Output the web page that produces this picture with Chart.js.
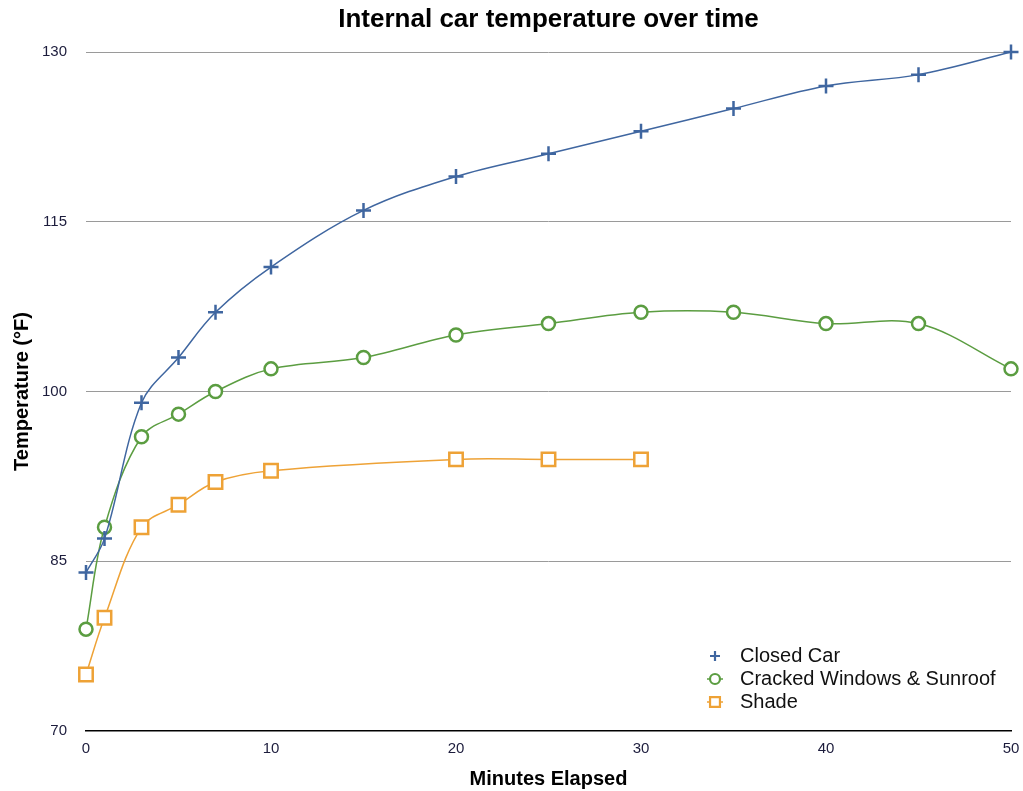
<!DOCTYPE html>
<html>
<head>
<meta charset="utf-8">
<title>Internal car temperature over time</title>
<script src="https://cdn.jsdelivr.net/npm/chart.js@4.4.0/dist/chart.umd.min.js"></script>
<style>
    html, body { margin: 0; padding: 0; background: #fff; overflow: hidden; }
    #wrap { width: 1023px; height: 791px; position: relative; }
    canvas { display: block; }
</style>
</head>
<body>
<div id="wrap"><canvas id="tempChart"></canvas></div>
<script>
// Minutes at which readings were taken
const minutesLong = [0, 1, 3, 5, 7, 10, 15, 20, 25, 30, 35, 40, 45, 50];
const minutesShade = [0, 1, 3, 5, 7, 10, 20, 25, 30];

// Temperatures (°F)
const closedCar = [84, 87, 99, 103, 107, 111, 116, 119, 121, 123, 125, 127, 128, 130];
const crackedWindows = [79, 88, 96, 98, 100, 102, 103, 105, 106, 107, 107, 106, 106, 102];
const shade = [75, 80, 88, 90, 92, 93, 94, 94, 94];

const yTicks = [70, 85, 100, 115, 130];
const xTicks = [0, 10, 20, 30, 40, 50];

const FONT = '"Liberation Sans", Arial, Helvetica, sans-serif';
const TITLE = 'Internal car temperature over time';

function toPoints(xs, ys) {
    return xs.map((x, i) => ({ x: x, y: ys[i] }));
}

// Title centred over the plot area rather than the whole canvas
const plotTitle = {
    id: 'plotTitle',
    afterDraw(chart) {
        const ctx = chart.ctx;
        const area = chart.chartArea;
        ctx.save();
        ctx.fillStyle = '#000';
        ctx.font = 'bold 26px ' + FONT;
        ctx.textAlign = 'center';
        ctx.textBaseline = 'middle';
        ctx.fillText(TITLE, (area.left + area.right) / 2, 20);
        ctx.restore();
    }
};

// Legend drawn inside the plot, lower right
const innerLegend = {
    id: 'innerLegend',
    afterDraw(chart) {
        const ctx = chart.ctx;
        const x0 = 715;
        let y = 656;
        ctx.save();
        chart.data.datasets.forEach(ds => {
            if (ds.pointStyle !== 'cross') {
                ctx.strokeStyle = ds.borderColor;
                ctx.lineWidth = 1.5;
                ctx.beginPath();
                ctx.moveTo(x0 - 8, y);
                ctx.lineTo(x0 + 8, y);
                ctx.stroke();
            }
            ctx.strokeStyle = ds.borderColor;
            ctx.fillStyle = '#fff';
            ctx.lineWidth = 2.2;
            Chart.helpers.drawPoint(ctx, {
                pointStyle: ds.pointStyle,
                radius: ds.pointStyle === 'rect' ? 7 : 5,
                rotation: 0,
                borderWidth: 2.2
            }, x0, y);
            ctx.fillStyle = '#111';
            ctx.font = '20px ' + FONT;
            ctx.textBaseline = 'middle';
            ctx.textAlign = 'left';
            ctx.fillText(ds.label, 740, y);
            y += 23;
        });
        ctx.restore();
    }
};

new Chart(document.getElementById('tempChart'), {
    type: 'line',
    data: {
        datasets: [{
            label: 'Closed Car',
            data: toPoints(minutesLong, closedCar),
            borderColor: '#3f66a0',
            backgroundColor: '#3f66a0',
            pointStyle: 'cross',
            pointRadius: 7.5,
            pointBorderWidth: 2.5,
            borderWidth: 1.5,
            tension: 0.35,
            clip: false
        }, {
            label: 'Cracked Windows & Sunroof',
            data: toPoints(minutesLong, crackedWindows),
            borderColor: '#5b9d41',
            backgroundColor: '#fff',
            pointStyle: 'circle',
            pointRadius: 6.5,
            pointBorderWidth: 2.5,
            borderWidth: 1.5,
            tension: 0.35,
            clip: false
        }, {
            label: 'Shade',
            data: toPoints(minutesShade, shade),
            borderColor: '#eea236',
            backgroundColor: '#fff',
            pointStyle: 'rect',
            pointRadius: 9.5,
            pointBorderWidth: 2.5,
            borderWidth: 1.5,
            tension: 0.35,
            clip: false
        }]
    },
    options: {
        responsive: true,
        maintainAspectRatio: false,
        animation: false,
        layout: { padding: { left: 0, right: 0, top: 52, bottom: 0 } },
        plugins: {
            legend: { display: false },
            tooltip: { enabled: false },
            title: { display: false }
        },
        scales: {
            x: {
                type: 'linear',
                min: 0,
                max: 50,
                afterBuildTicks: axis => { axis.ticks = xTicks.map(v => ({ value: v })); },
                afterFit: axis => {
                    axis.height = 60;
                    axis.paddingRight = 11;
                },
                grid: { display: false, drawTicks: false },
                border: { display: true, color: '#000', width: 1.5 },
                ticks: {
                    color: '#1c1c3c',
                    padding: 9,
                    font: { family: FONT, size: 15 }
                },
                title: {
                    display: true,
                    text: 'Minutes Elapsed',
                    color: '#000',
                    font: { family: FONT, size: 20, weight: 'bold' },
                    padding: { top: 6, bottom: 0 }
                }
            },
            y: {
                min: 70,
                max: 130,
                afterBuildTicks: axis => { axis.ticks = yTicks.map(v => ({ value: v })); },
                afterFit: axis => { axis.width = 86; },
                grid: {
                    drawTicks: false,
                    color: ctx => ctx.index === 0 ? 'rgba(0,0,0,0)' : '#9a9a9a',
                    lineWidth: 1
                },
                border: { display: false },
                ticks: {
                    color: '#1c1c3c',
                    padding: 19,
                    font: { family: FONT, size: 15 }
                },
                title: {
                    display: true,
                    text: 'Temperature (°F)',
                    color: '#000',
                    font: { family: FONT, size: 20, weight: 'bold' },
                    padding: { top: 10, bottom: 0 }
                }
            }
        }
    },
    plugins: [plotTitle, innerLegend]
});
</script>
</body>
</html>
